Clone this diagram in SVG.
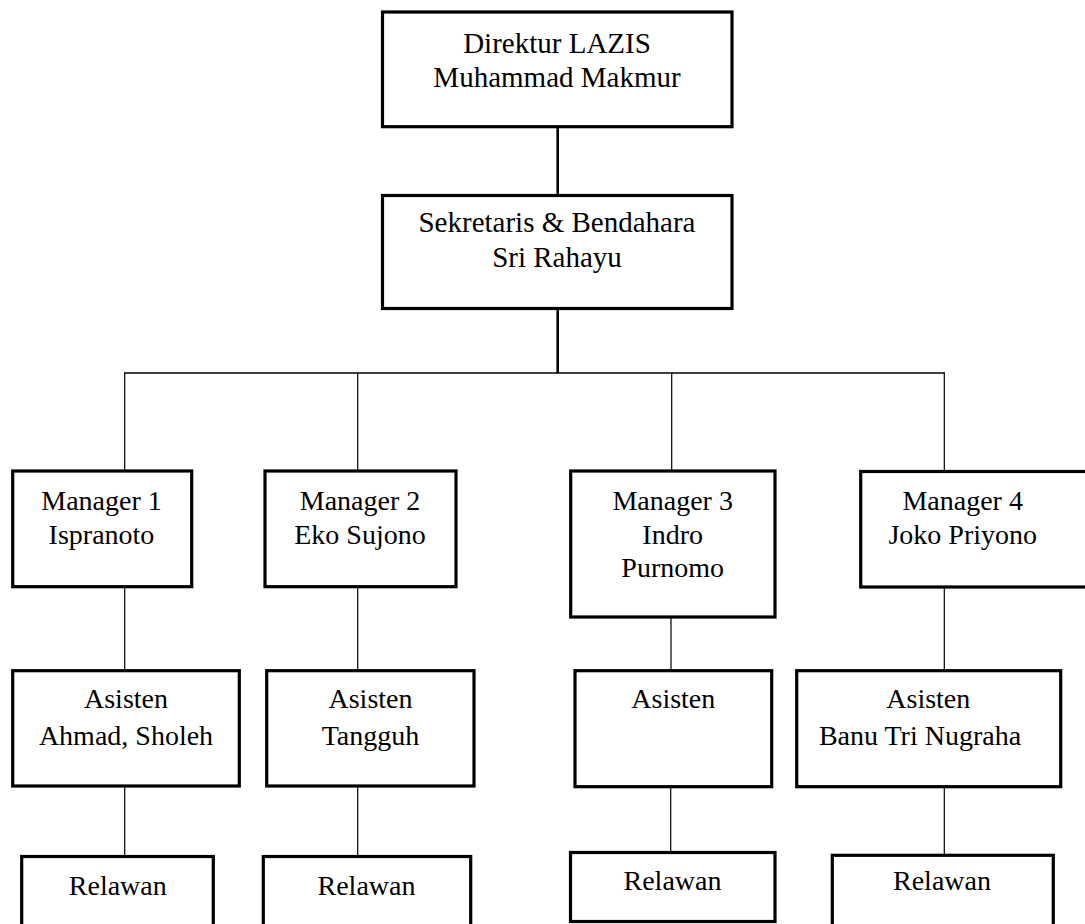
<svg xmlns="http://www.w3.org/2000/svg" width="1085" height="924" viewBox="0 0 1085 924">
<style>
.box{fill:#fff;stroke:#000;stroke-width:3.2}
.t{font-family:"Liberation Serif","Times New Roman",serif;font-size:28px;fill:#000;text-anchor:middle}
.tb{font-size:29px}
.c{stroke:#000;fill:none}
</style>
<rect width="1085" height="924" fill="#fff"/>
<g id="connectors">
<line class="c" x1="557.7" y1="127" x2="557.7" y2="195" stroke-width="2.6"/>
<line class="c" x1="557.7" y1="309" x2="557.7" y2="373" stroke-width="2.6"/>
<line class="c" x1="124" y1="373" x2="945" y2="373" stroke-width="1.6"/>
<line class="c" x1="124.7" y1="373" x2="124.7" y2="471" stroke-width="1.2"/>
<line class="c" x1="357.7" y1="373" x2="357.7" y2="471" stroke-width="1.2"/>
<line class="c" x1="671.7" y1="373" x2="671.7" y2="471" stroke-width="1.2"/>
<line class="c" x1="944.3" y1="373" x2="944.3" y2="471" stroke-width="1.2"/>
<line class="c" x1="124.7" y1="587" x2="124.7" y2="671" stroke-width="1.2"/>
<line class="c" x1="357.7" y1="587" x2="357.7" y2="671" stroke-width="1.2"/>
<line class="c" x1="671" y1="617" x2="671" y2="671" stroke-width="1.2"/>
<line class="c" x1="944.3" y1="587" x2="944.3" y2="671" stroke-width="1.2"/>
<line class="c" x1="124.7" y1="786" x2="124.7" y2="856" stroke-width="1.2"/>
<line class="c" x1="357.7" y1="786" x2="357.7" y2="856" stroke-width="1.2"/>
<line class="c" x1="670.7" y1="787" x2="670.7" y2="852" stroke-width="1.2"/>
<line class="c" x1="944.3" y1="787" x2="944.3" y2="855" stroke-width="1.2"/>
</g>
<g id="direktur">
<rect class="box" x="382.5" y="12" width="349.5" height="114.7"/>
<text class="t tb" x="557" y="53">Direktur LAZIS</text>
<text class="t tb" x="557" y="87">Muhammad Makmur</text>
</g>
<g id="sekretaris">
<rect class="box" x="382.5" y="195.5" width="349.5" height="113"/>
<text class="t tb" x="557" y="232">Sekretaris &amp; Bendahara</text>
<text class="t tb" x="557" y="267">Sri Rahayu</text>
</g>
<g id="manager1">
<rect class="box" x="12.7" y="471" width="179" height="115.7"/>
<text class="t" x="101.5" y="510">Manager 1</text>
<text class="t" x="101.5" y="544">Ispranoto</text>
</g>
<g id="manager2">
<rect class="box" x="265" y="471" width="191" height="115.7"/>
<text class="t" x="360" y="510">Manager 2</text>
<text class="t" x="360" y="544">Eko Sujono</text>
</g>
<g id="manager3">
<rect class="box" x="570.7" y="471" width="204.3" height="146"/>
<text class="t" x="672.7" y="510">Manager 3</text>
<text class="t" x="672.7" y="544">Indro</text>
<text class="t" x="672.7" y="577">Purnomo</text>
</g>
<g id="manager4">
<rect class="box" x="860.7" y="471.5" width="230" height="115.5"/>
<text class="t" x="962.7" y="510">Manager 4</text>
<text class="t" x="962.7" y="544">Joko Priyono</text>
</g>
<g id="asisten1">
<rect class="box" x="12.7" y="670.7" width="226.6" height="115.3"/>
<text class="t" x="126" y="708.3">Asisten</text>
<text class="t" x="126" y="745">Ahmad, Sholeh</text>
</g>
<g id="asisten2">
<rect class="box" x="266.7" y="670.7" width="207.3" height="115.3"/>
<text class="t" x="370.5" y="708.3">Asisten</text>
<text class="t" x="370.5" y="745">Tangguh</text>
</g>
<g id="asisten3">
<rect class="box" x="575" y="670.7" width="196.7" height="116"/>
<text class="t" x="673.3" y="708.3">Asisten</text>
</g>
<g id="asisten4">
<rect class="box" x="796.7" y="670.7" width="264" height="116"/>
<text class="t" x="928.3" y="708.3">Asisten</text>
<text class="t" x="920" y="745">Banu Tri Nugraha</text>
</g>
<g id="relawan1">
<rect class="box" x="21.7" y="856.5" width="191.6" height="80"/>
<text class="t" x="117.8" y="895">Relawan</text>
</g>
<g id="relawan2">
<rect class="box" x="263.3" y="856.5" width="207.4" height="80"/>
<text class="t" x="366.5" y="895">Relawan</text>
</g>
<g id="relawan3">
<rect class="box" x="570.5" y="852.5" width="204.5" height="69" stroke-width="4"/>
<text class="t" x="672.5" y="890">Relawan</text>
</g>
<g id="relawan4">
<rect class="box" x="832.3" y="855.3" width="221" height="80"/>
<text class="t" x="942" y="890">Relawan</text>
</g>
</svg>
